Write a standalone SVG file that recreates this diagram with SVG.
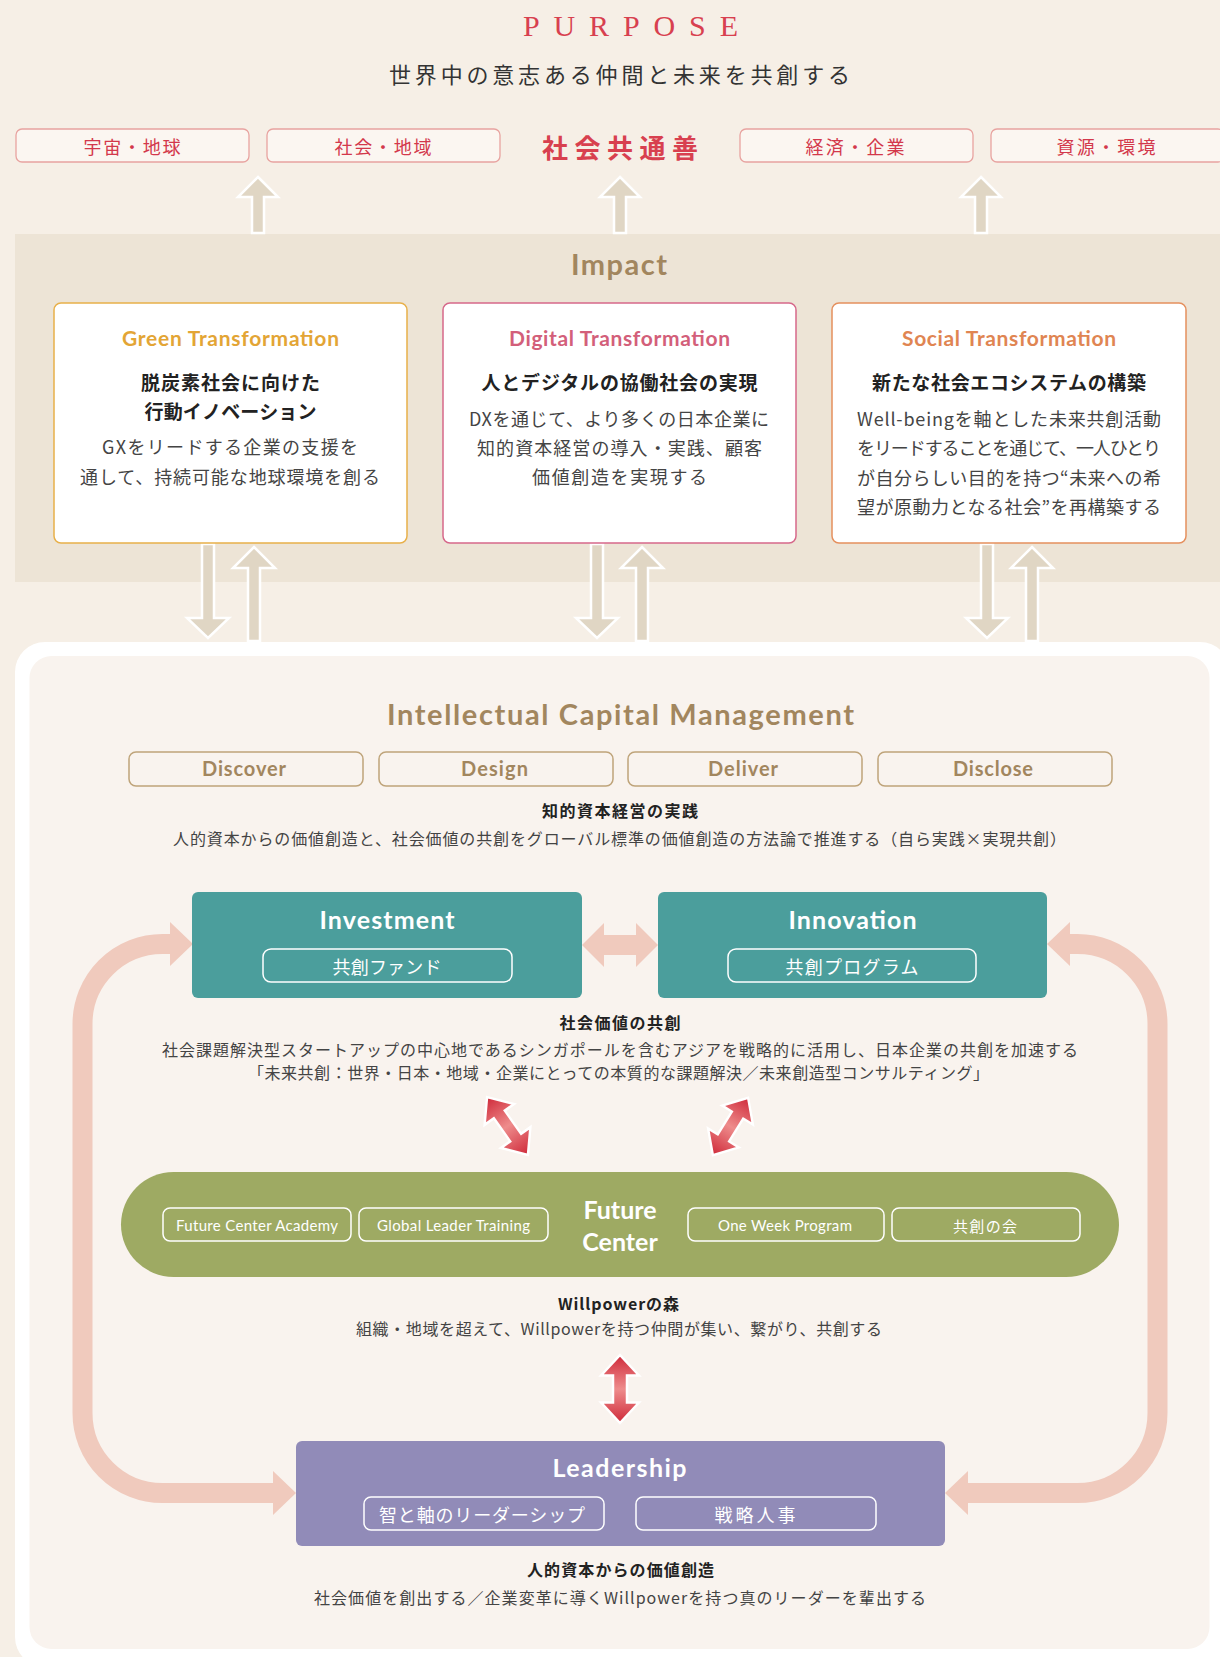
<svg xmlns="http://www.w3.org/2000/svg" width="1220" height="1657" viewBox="0 0 1220 1657">
<defs>
<style>
.jp{font-family:'Noto Sans CJK JP','Noto Sans',sans-serif;}
.lat{font-family:Lato,'Noto Sans','Noto Sans CJK JP',sans-serif;}
.srf{font-family:'Liberation Serif','Noto Sans CJK JP',serif;}
text{dominant-baseline:central;text-anchor:middle;}
.tag{fill:#fbf6f1;stroke:#e8a3a0;stroke-width:1.3;}
.tagt{font-size:18px;fill:#d3384b;}
.card{fill:#fff;stroke-width:1.5;}
.ctitle{font-size:21px;font-weight:700;}
.csub{font-size:19px;font-weight:700;fill:#222;}
.cbody{font-size:18px;fill:#444;}
.beige{fill:#e0d6c4;stroke:#fff;stroke-width:2.5;}
.phase{fill:none;stroke:#bfa47a;stroke-width:1.5;}
.phaset{font-size:20px;font-weight:700;fill:#a2865e;}
.hd{font-size:16px;font-weight:700;fill:#222;}
.ln{font-size:16px;fill:#444;}
.wt{fill:#fff;}
.pill{fill:none;stroke:#fff;stroke-width:1.5;}
.loop{fill:none;stroke:#f0cabd;stroke-width:20;}
.loophead{fill:#f0cabd;}
.red{fill:url(#rg);stroke:#fff;stroke-width:2.5;}
</style>
<linearGradient id="rg" x1="0" y1="0" x2="1" y2="0">
<stop offset="0" stop-color="#cf2a3a"/>
<stop offset="0.5" stop-color="#ee8c8c"/>
<stop offset="1" stop-color="#cf2a3a"/>
</linearGradient>
<path id="dbl" d="M-35 0 L-14 -19 L-14 -7 L14 -7 L14 -19 L35 0 L14 19 L14 7 L-14 7 L-14 19 Z"/>
</defs>

<rect x="0" y="0" width="1220" height="1657" fill="#f6efe6"/>

<g id="purpose">
<text class="srf" x="630.5" y="25" font-size="30" fill="#d8404f" textLength="215">PURPOSE</text>
<text class="jp" x="619.5" y="73" font-size="22" fill="#333" textLength="461">世界中の意志ある仲間と未来を共創する</text>
</g>

<g id="tag-uchu">
<rect class="tag" x="16" y="129" width="233" height="33" rx="6"/>
<text class="jp tagt" x="132" y="146" textLength="97">宇宙・地球</text>
</g>
<g id="tag-shakai">
<rect class="tag" x="267" y="129" width="233" height="33" rx="6"/>
<text class="jp tagt" x="383" y="146" textLength="97">社会・地域</text>
</g>
<g id="common-good">
<text class="jp" x="620" y="146" font-size="26" font-weight="700" fill="#d8404f" textLength="156">社会共通善</text>
</g>
<g id="tag-keizai">
<rect class="tag" x="740" y="129" width="233" height="33" rx="6"/>
<text class="jp tagt" x="855" y="146" textLength="99">経済・企業</text>
</g>
<g id="tag-shigen">
<rect class="tag" x="991" y="129" width="233" height="33" rx="6"/>
<text class="jp tagt" x="1106" y="146" textLength="99">資源・環境</text>
</g>

<g id="impact-band">
<rect x="15" y="234" width="1215" height="348" fill="#ede4d6"/>
<text class="lat" x="619" y="263" font-size="29" font-weight="700" fill="#a2865e" textLength="96">Impact</text>
</g>

<g id="icm-panel">
<rect x="15" y="642" width="1215" height="1025" rx="30" fill="#fff"/>
<rect x="29.5" y="656" width="1180" height="993" rx="22" fill="#f9f3ee"/>
</g>

<g id="connectors">
<polygon class="beige" points="258,177 278,197 264,197 264,233 252,233 252,197 238,197"/>
<polygon class="beige" points="620,177 640,197 626,197 626,233 614,233 614,197 600,197"/>
<polygon class="beige" points="981,177 1001,197 987,197 987,233 975,233 975,197 961,197"/>

<polygon class="beige" points="202,544 214,544 214,618 229,618 208,638 187,618 202,618"/>
<polygon class="beige" points="254,547 275,568 260,568 260,641 248,641 248,568 233,568"/>
<polygon class="beige" points="591,544 603,544 603,618 618,618 597,638 576,618 591,618"/>
<polygon class="beige" points="642,547 663,568 648,568 648,641 636,641 636,568 621,568"/>
<polygon class="beige" points="981,544 993,544 993,618 1008,618 987,638 966,618 981,618"/>
<polygon class="beige" points="1032,547 1053,568 1038,568 1038,641 1026,641 1026,568 1011,568"/>

<path class="loop" d="M274 1493 H162.5 A80 80 0 0 1 82.5 1413 V1024 A80 80 0 0 1 162.5 944 H171"/>
<polygon class="loophead" points="193,944 170,922 170,966"/>
<polygon class="loophead" points="296,1493 273,1471 273,1515"/>
<path class="loop" d="M967 1493 H1077.5 A80 80 0 0 0 1157.5 1413 V1024 A80 80 0 0 0 1077.5 944 H1069"/>
<polygon class="loophead" points="1047,944 1070,922 1070,966"/>
<polygon class="loophead" points="945,1493 968,1471 968,1515"/>

<polygon class="loophead" points="582,945 604,923 604,935 636,935 636,923 658,945 636,967 636,955 604,955 604,967"/>

<use href="#dbl" class="red" transform="translate(507.5 1126) rotate(54.7) scale(1.01 0.95)"/>
<use href="#dbl" class="red" transform="translate(730.5 1126.5) rotate(121.6) scale(0.96 0.95)"/>
<use href="#dbl" class="red" transform="translate(620 1389) rotate(90) scale(0.97 1)"/>
</g>

<g id="card-green">
<rect class="card" x="54" y="303" width="353" height="240" rx="7" stroke="#e8b04a"/>
<text class="lat ctitle" x="230.5" y="337" fill="#e3a535" textLength="217">Green Transformation</text>
<text class="jp csub" x="230.5" y="381" textLength="179">脱炭素社会に向けた</text>
<text class="jp csub" x="230.5" y="410" textLength="172">行動イノベーション</text>
<text class="jp cbody" x="230" y="446" textLength="256">GXをリードする企業の支援を</text>
<text class="jp cbody" x="230" y="476" textLength="300">通して、持続可能な地球環境を創る</text>
</g>

<g id="card-digital">
<rect class="card" x="443" y="303" width="353" height="240" rx="7" stroke="#d6688a"/>
<text class="lat ctitle" x="619.5" y="337" fill="#d35f7a" textLength="221">Digital Transformation</text>
<text class="jp csub" x="619.5" y="381" textLength="276">人とデジタルの協働社会の実現</text>
<text class="jp cbody" x="619" y="418" textLength="300">DXを通じて、より多くの日本企業に</text>
<text class="jp cbody" x="619.5" y="447" textLength="285">知的資本経営の導入・実践、顧客</text>
<text class="jp cbody" x="619.5" y="476" textLength="175">価値創造を実現する</text>
</g>

<g id="card-social">
<rect class="card" x="832" y="303" width="354" height="240" rx="7" stroke="#e5905e"/>
<text class="lat ctitle" x="1009" y="337" fill="#e08552" textLength="214">Social Transformation</text>
<text class="jp csub" x="1009" y="381" textLength="274">新たな社会エコシステムの構築</text>
<text class="jp cbody" x="1009" y="418" textLength="304">Well-beingを軸とした未来共創活動</text>
<text class="jp cbody" x="1009" y="447" textLength="304">をリードすることを通じて、一人ひとり</text>
<text class="jp cbody" x="1009" y="477" textLength="304">が自分らしい目的を持つ“未来への希</text>
<text class="jp cbody" x="1009" y="506" textLength="304">望が原動力となる社会”を再構築する</text>
</g>

<g id="icm-header">
<text class="lat" x="620.5" y="713" font-size="29" font-weight="700" fill="#a2865e" textLength="467">Intellectual Capital Management</text>
</g>
<g id="phase-discover">
<rect class="phase" x="129" y="752" width="234" height="34" rx="7"/>
<text class="lat phaset" x="244" y="768" textLength="84">Discover</text>
</g>
<g id="phase-design">
<rect class="phase" x="379" y="752" width="234" height="34" rx="7"/>
<text class="lat phaset" x="494.5" y="768" textLength="67">Design</text>
</g>
<g id="phase-deliver">
<rect class="phase" x="628" y="752" width="234" height="34" rx="7"/>
<text class="lat phaset" x="743" y="768" textLength="70">Deliver</text>
</g>
<g id="phase-disclose">
<rect class="phase" x="878" y="752" width="234" height="34" rx="7"/>
<text class="lat phaset" x="993" y="768" textLength="80">Disclose</text>
</g>
<g id="icm-caption">
<text class="jp hd" x="620" y="810" textLength="156">知的資本経営の実践</text>
<text class="jp ln" x="619.5" y="838" textLength="893">人的資本からの価値創造と、社会価値の共創をグローバル標準の価値創造の方法論で推進する（自ら実践×実現共創）</text>
</g>

<g id="investment">
<rect x="192" y="892" width="390" height="106" rx="6" fill="#4b9e9c"/>
<text class="lat wt" x="387" y="919" font-size="25" font-weight="700" textLength="135">Investment</text>
<rect class="pill" x="263" y="949" width="249" height="33" rx="8"/>
<text class="jp wt" x="387" y="966" font-size="18" textLength="109">共創ファンド</text>
</g>

<g id="innovation">
<rect x="658" y="892" width="389" height="106" rx="6" fill="#4b9e9c"/>
<text class="lat wt" x="852.5" y="919" font-size="25" font-weight="700" textLength="128">Innovation</text>
<rect class="pill" x="728" y="949" width="248" height="33" rx="8"/>
<text class="jp wt" x="852" y="966" font-size="18" textLength="133">共創プログラム</text>
</g>

<g id="cocreation-caption">
<text class="jp hd" x="620" y="1022" textLength="121">社会価値の共創</text>
<text class="jp ln" x="620" y="1049" textLength="916">社会課題解決型スタートアップの中心地であるシンガポールを含むアジアを戦略的に活用し、日本企業の共創を加速する</text>
<text class="jp ln" x="618.5" y="1072" textLength="741">「未来共創：世界・日本・地域・企業にとっての本質的な課題解決／未来創造型コンサルティング」</text>
</g>

<g id="future-center">
<rect x="121" y="1172" width="998" height="105" rx="52.5" fill="#9eaa63"/>
<text class="lat wt" x="620" y="1209" font-size="25" font-weight="700">Future</text>
<text class="lat wt" x="620" y="1241" font-size="25" font-weight="700">Center</text>
<rect class="pill" x="163" y="1208" width="188" height="33" rx="7"/>
<text class="lat wt" x="257" y="1225" font-size="15" textLength="162">Future Center Academy</text>
<rect class="pill" x="359" y="1208" width="189" height="33" rx="7"/>
<text class="lat wt" x="453.5" y="1225" font-size="15" textLength="153">Global Leader Training</text>
<rect class="pill" x="688" y="1208" width="196" height="33" rx="7"/>
<text class="lat wt" x="785" y="1225" font-size="15" textLength="134">One Week Program</text>
<rect class="pill" x="892" y="1208" width="188" height="33" rx="7"/>
<text class="jp wt" x="985" y="1225" font-size="15" textLength="64">共創の会</text>
</g>

<g id="willpower-caption">
<text class="jp hd" x="618.5" y="1303" textLength="121">Willpowerの森</text>
<text class="jp ln" x="619" y="1328" textLength="526">組織・地域を超えて、Willpowerを持つ仲間が集い、繋がり、共創する</text>
</g>

<g id="leadership">
<rect x="296" y="1441" width="649" height="105" rx="6" fill="#918bb8"/>
<text class="lat wt" x="619.5" y="1467" font-size="25" font-weight="700" textLength="134">Leadership</text>
<rect class="pill" x="364" y="1497" width="240" height="33" rx="7"/>
<text class="jp wt" x="482" y="1514" font-size="18" textLength="206">智と軸のリーダーシップ</text>
<rect class="pill" x="636" y="1497" width="240" height="33" rx="7"/>
<text class="jp wt" x="755" y="1514" font-size="18" textLength="81">戦略人事</text>
</g>

<g id="leadership-caption">
<text class="jp hd" x="620.5" y="1569" textLength="187">人的資本からの価値創造</text>
<text class="jp ln" x="620" y="1597" textLength="612">社会価値を創出する／企業変革に導くWillpowerを持つ真のリーダーを輩出する</text>
</g>
</svg>
